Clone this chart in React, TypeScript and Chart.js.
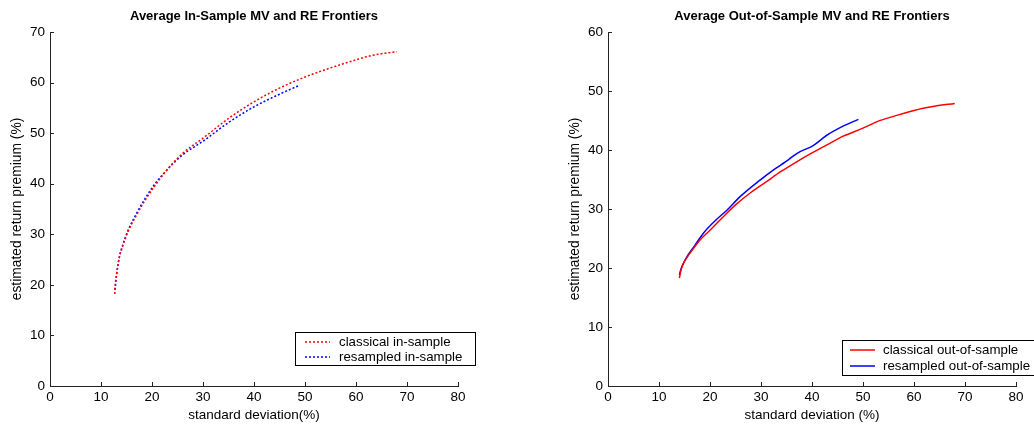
import React, { useEffect, useRef } from "react";
import { Chart, registerables } from "chart.js";

Chart.register(...registerables);

// ---------- data ----------
const xTicks = [0, 10, 20, 30, 40, 50, 60, 70, 80];

// In-sample, classical (red dotted)
const inClassicalSd = [12.7, 12.8, 13.1, 13.5, 14.2, 15.3, 16.8, 18.5, 20.5, 23, 26, 30, 35, 40, 45, 50, 55, 60, 62, 65, 68];
const inClassicalRet = [18.2, 20, 22.5, 25, 27.5, 30.5, 33.5, 36.5, 39.5, 42.8, 46, 49.0, 52.9, 56.2, 58.9, 61.1, 62.9, 64.5, 65.1, 65.7, 66.1];

// In-sample, resampled (blue dotted)
const inResampledSd = [12.75, 12.9, 13.2, 13.6, 14.3, 15.4, 16.9, 18.6, 20.6, 23, 26, 30, 35, 40, 45, 49];
const inResampledRet = [19, 20.5, 23, 25.5, 28, 31, 34, 37, 40, 42.8, 45.7, 48.4, 52.1, 55.2, 57.7, 59.5];

// Out-of-sample, classical (red solid)
const outClassicalSd = [14.0, 14.3, 14.8, 15.5, 16.5, 18, 20, 22.5, 25, 28, 31, 34, 37, 40, 43, 46, 50, 53, 56, 60, 64, 68];
const outClassicalRet = [18.3, 19.6, 20.8, 21.8, 23.0, 24.7, 26.4, 28.6, 30.7, 32.8, 34.6, 36.4, 38.0, 39.5, 40.9, 42.3, 43.7, 44.9, 45.7, 46.7, 47.4, 47.9];

// Out-of-sample, resampled (blue solid)
const outResampledSd = [14.0, 14.3, 14.8, 15.7, 17, 18.7, 21, 23.3, 25.9, 29.8, 32.4, 35, 37, 40.3, 42.9, 46, 49.1];
const outResampledRet = [18.8, 19.8, 20.8, 22.2, 23.8, 25.9, 28, 29.8, 32.1, 34.9, 36.6, 38.1, 39.4, 40.8, 42.5, 44, 45.2];

const leftTitle = "Average In-Sample MV and RE Frontiers";
const rightTitle = "Average Out-of-Sample MV and RE Frontiers";
const leftXTitle = "standard deviation(%)";
const rightXTitle = "standard deviation (%)";
const yTitle = "estimated return premium (%)";
const inLabels = ["classical in-sample", "resampled in-sample"];
const outLabels = ["classical out-of-sample", "resampled out-of-sample"];

// ---------- helpers ----------
const FONT = 'Arial, "Liberation Sans", sans-serif';

function toPoints(xs: number[], ys: number[]) {
  return xs.map((x, i) => ({ x, y: ys[i] }));
}

const inwardTicks = {
  id: "inwardTicks",
  afterDraw(chart: any) {
    const { ctx, chartArea: a } = chart;
    const xs = chart.scales.x;
    const ys = chart.scales.y;
    ctx.save();
    ctx.strokeStyle = "#222";
    ctx.lineWidth = 1;
    ctx.beginPath();
    xs.ticks.forEach((t: any) => {
      const p = Math.round(xs.getPixelForValue(t.value)) + 0.5;
      ctx.moveTo(p, a.bottom);
      ctx.lineTo(p, a.bottom - 4);
    });
    ys.ticks.forEach((t: any) => {
      const p = Math.round(ys.getPixelForValue(t.value)) + 0.5;
      ctx.moveTo(a.left, p);
      ctx.lineTo(a.left + 4, p);
    });
    ctx.stroke();
    ctx.restore();
  },
};

const boxLegend = {
  id: "boxLegend",
  afterDraw(chart: any, _args: any, opts: any) {
    const { ctx } = chart;
    const { x, y, w, h, lineX, lineLen, textX, rowY } = opts;
    ctx.save();
    ctx.fillStyle = "#fff";
    ctx.fillRect(x, y, w, h);
    ctx.strokeStyle = "#000";
    ctx.lineWidth = 1;
    ctx.strokeRect(x + 0.5, y + 0.5, w, h);
    chart.data.datasets.forEach((ds: any, i: number) => {
      const ry = rowY[i];
      ctx.beginPath();
      ctx.setLineDash(ds.borderDash || []);
      ctx.strokeStyle = ds.borderColor;
      ctx.lineWidth = ds.borderWidth;
      ctx.moveTo(lineX, ry);
      ctx.lineTo(lineX + lineLen, ry);
      ctx.stroke();
      ctx.setLineDash([]);
      ctx.fillStyle = "#000";
      ctx.font = `13.3px ${FONT}`;
      ctx.textBaseline = "middle";
      ctx.textAlign = "left";
      ctx.fillText(ds.label, textX, ry);
    });
    ctx.restore();
  },
};

type Props = {
  title: string;
  xTitle: string;
  yMax: number;
  datasets: any[];
  legend: any;
  left: number;
};

function FrontierChart({ title, xTitle, yMax, datasets, legend, left }: Props) {
  const ref = useRef<HTMLCanvasElement | null>(null);
  useEffect(() => {
    if (!ref.current) return;
    const yTicks: number[] = [];
    for (let v = 0; v <= yMax; v += 10) yTicks.push(v);
    const chart = new Chart(ref.current, {
      type: "scatter",
      data: { datasets },
      plugins: [inwardTicks, boxLegend],
      options: {
        animation: false,
        responsive: false,
        layout: { padding: { left: 0, right: 59, top: 0, bottom: 0 } },
        elements: { point: { radius: 0, hoverRadius: 0 } },
        plugins: {
          legend: { display: false },
          tooltip: { enabled: false },
          title: {
            display: true,
            text: title,
            fullSize: false,
            color: "#000",
            font: { family: FONT, size: 13, weight: "bold", lineHeight: 1.2 },
            padding: { top: 8.5, bottom: 7.9 },
          },
          boxLegend: legend,
        } as any,
        scales: {
          x: {
            type: "linear",
            min: 0,
            max: 80,
            afterBuildTicks: (s: any) => {
              s.ticks = xTicks.map((v) => ({ value: v }));
            },
            afterFit: (s: any) => {
              s.height = 39;
            },
            grid: { display: false, drawTicks: false },
            border: { display: true, color: "#222", width: 1 },
            ticks: { color: "#000", padding: 3, font: { family: FONT, size: 13.5 }, maxRotation: 0 },
            title: {
              display: true,
              text: xTitle,
              color: "#000",
              font: { family: FONT, size: 13.5, lineHeight: 1.2 },
              padding: { top: 0, bottom: 2 },
            },
          },
          y: {
            type: "linear",
            min: 0,
            max: yMax,
            afterBuildTicks: (s: any) => {
              s.ticks = yTicks.map((v) => ({ value: v }));
            },
            afterFit: (s: any) => {
              s.width = 50;
            },
            grid: { display: false, drawTicks: false },
            border: { display: true, color: "#222", width: 1 },
            ticks: { color: "#000", padding: 5, font: { family: FONT, size: 13.5 } },
            title: {
              display: true,
              text: yTitle,
              color: "#000",
              font: { family: FONT, size: 13.8, lineHeight: 1.2 },
              padding: { top: 8.7, bottom: 0 },
            },
          },
        },
      } as any,
    });
    return () => chart.destroy();
  }, []);
  return (
    <div style={{ position: "absolute", left, top: 0, width: 517, height: 425 }}>
      <canvas ref={ref} width={517} height={425} style={{ width: 517, height: 425, display: "block" }} />
    </div>
  );
}

export default function App() {
  const inDatasets = [
    {
      label: inLabels[0],
      data: toPoints(inClassicalSd, inClassicalRet),
      showLine: true,
      borderColor: "#ff0000",
      borderWidth: 1.5,
      borderDash: [2, 2],
      cubicInterpolationMode: "monotone",
      fill: false,
    },
    {
      label: inLabels[1],
      data: toPoints(inResampledSd, inResampledRet),
      showLine: true,
      borderColor: "#0000ff",
      borderWidth: 1.5,
      borderDash: [2, 2],
      cubicInterpolationMode: "monotone",
      fill: false,
    },
  ];
  const outDatasets = [
    {
      label: outLabels[0],
      data: toPoints(outClassicalSd, outClassicalRet),
      showLine: true,
      borderColor: "#ff0000",
      borderWidth: 1.5,
      cubicInterpolationMode: "monotone",
      fill: false,
    },
    {
      label: outLabels[1],
      data: toPoints(outResampledSd, outResampledRet),
      showLine: true,
      borderColor: "#0000ff",
      borderWidth: 1.5,
      cubicInterpolationMode: "monotone",
      fill: false,
    },
  ];
  return (
    <div
      style={{
        position: "fixed",
        left: 0,
        top: 0,
        width: 1034,
        height: 425,
        overflow: "hidden",
        background: "#fff",
      }}
    >
      <FrontierChart
        title={leftTitle}
        xTitle={leftXTitle}
        yMax={70}
        datasets={inDatasets}
        left={0}
        legend={{ x: 295, y: 332, w: 180, h: 33, lineX: 305, lineLen: 25, textX: 339, rowY: [342, 357] }}
      />
      <FrontierChart
        title={rightTitle}
        xTitle={rightXTitle}
        yMax={60}
        datasets={outDatasets}
        left={558}
        legend={{ x: 284, y: 340, w: 200, h: 35, lineX: 292, lineLen: 25, textX: 325, rowY: [350, 366] }}
      />
    </div>
  );
}
